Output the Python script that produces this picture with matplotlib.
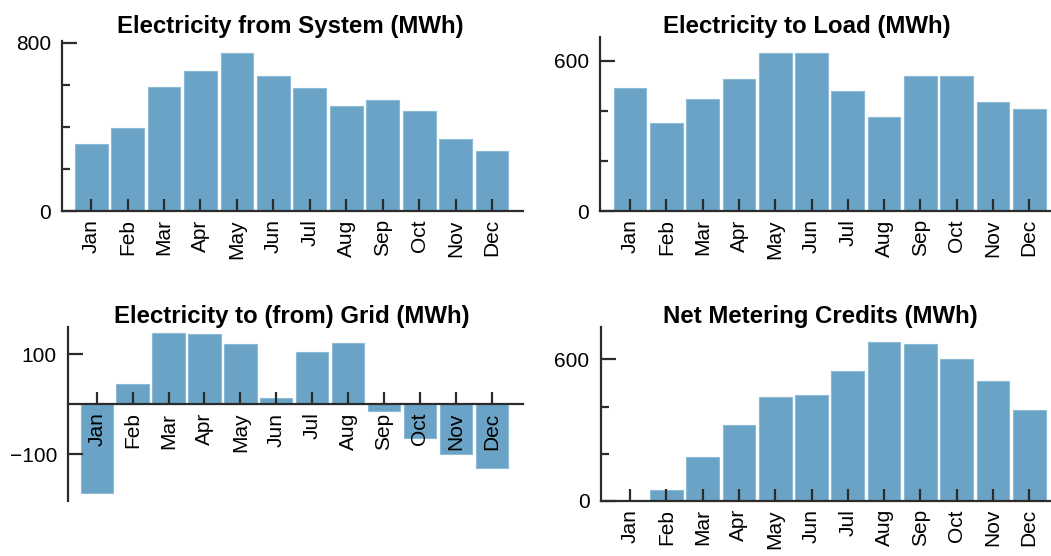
import matplotlib
matplotlib.use("Agg")
import matplotlib.pyplot as plt
from matplotlib.ticker import FixedLocator

plt.rcParams['font.family'] = ['Liberation Sans', 'DejaVu Sans']

months = ["Jan", "Feb", "Mar", "Apr", "May", "Jun", "Jul", "Aug", "Sep", "Oct", "Nov", "Dec"]
from_system = [319, 395, 590, 668, 751, 643, 586, 498, 530, 478, 344, 287]
to_load = [491, 353, 448, 527, 631, 631, 480, 376, 540, 540, 437, 407]
to_grid = [-177, 40, 143, 141, 121, 13, 105, 123, -13, -67, -99, -128]
net_credits = [0, 47, 186, 323, 442, 450, 552, 675, 667, 603, 507, 386]

titles = ["Electricity from System (MWh)", "Electricity to Load (MWh)",
          "Electricity to (from) Grid (MWh)", "Net Metering Credits (MWh)"]

W, H = 1051, 556
fig = plt.figure(figsize=(W / 100, H / 100), dpi=100)

BAR = '#6aa3c5'
EDGE = '#8dbbd7'
DARK = '#2b2b2b'


def px_axes(x0, x1, ytop, ybot):
    return fig.add_axes([x0 / W, 1 - ybot / H, (x1 - x0) / W, (ybot - ytop) / H])


def style(ax, xlim, ylim, major, minor, zero_spine=False):
    x = list(range(len(months)))
    ax.set_xlim(*xlim)
    ax.set_ylim(*ylim)
    for s in ['top', 'right']:
        ax.spines[s].set_visible(False)
    for s in ['left', 'bottom']:
        ax.spines[s].set_color(DARK)
        ax.spines[s].set_linewidth(1.6)
    if zero_spine:
        ax.spines['bottom'].set_position(('data', 0))
    ax.set_xticks(x)
    ax.set_xticklabels(months, rotation=90, fontsize=15)
    ax.tick_params(axis='x', direction='in', length=9, width=1.6, color=DARK, pad=6)
    ax.yaxis.set_major_locator(FixedLocator(major))
    ax.set_yticklabels([str(v).replace('-', '\u2212') for v in major], fontsize=15)
    if minor:
        ax.yaxis.set_minor_locator(FixedLocator(minor))
    ax.tick_params(axis='y', which='major', direction='in', length=11, width=1.6, color=DARK, pad=8)
    ax.tick_params(axis='y', which='minor', direction='in', length=6, width=1.6, color=DARK)


x = list(range(len(months)))

ax1 = px_axes(62, 523, 40.9, 211)
ax1.bar(x, from_system, width=0.9, color=BAR, edgecolor=EDGE, linewidth=0.8)
style(ax1, (-0.8, 11.85), (0, 810), [0, 800], [200, 400, 600])

ax2 = px_axes(600, 1051, 37, 211)
ax2.bar(x, to_load, width=0.9, color=BAR, edgecolor=EDGE, linewidth=0.8)
style(ax2, (-0.83, 11.6), (0, 696), [0, 600], [200, 400])

ax3 = px_axes(68, 523, 326.7, 500.7)
ax3.bar(x, to_grid, width=0.9, color=BAR, edgecolor=EDGE, linewidth=0.8)
style(ax3, (-0.8, 11.87), (-193, 155), [-100, 100], [], zero_spine=True)

ax4 = px_axes(600.7, 1051, 326.7, 500.7)
ax4.bar(x, net_credits, width=0.9, color=BAR, edgecolor=EDGE, linewidth=0.8)
style(ax4, (-0.81, 11.6), (0, 739), [0, 600], [200, 400])

title_pos = [(290, 33), (807, 33), (292, 323), (820, 323)]
for t, (tx, ty) in zip(titles, title_pos):
    fig.text(tx / W, 1 - ty / H, t, ha='center', va='baseline',
             fontsize=17.3, fontweight='bold', color='black')

fig.savefig("out.png", dpi=100)
